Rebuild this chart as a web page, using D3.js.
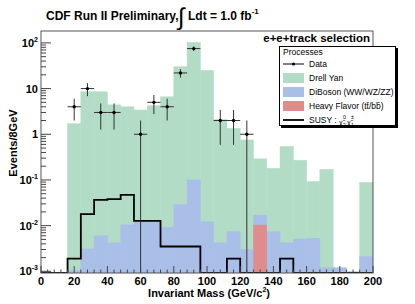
<!DOCTYPE html>
<html><head><meta charset="utf-8">
<script src="https://cdn.jsdelivr.net/npm/d3@7"></script>
<style>
body{margin:0;background:#fff}
text{font-family:"Liberation Sans",Arial,Helvetica,sans-serif}
</style>
</head><body>
<svg id="c" width="415" height="304"></svg>
<script>
// ---- data (8 GeV bins from 0 to 200) ----
const binLow = [0,8,16,24,32,40,48,56,64,72,80,88,96,104,112,120,128,136,144,152,160,168,176,184,192];
const binWidth = 8;
// stacked heights as drawn (Drell-Yan on top, DiBoson, Heavy Flavor)
const drellYan = [0,0,1.7,8.5,8.5,4.4,4.0,3.4,4.2,6.6,30,103,25,2.1,1.35,0.75,0.29,0.18,0.54,0.27,0.092,0.17,0,0,0.088];
const diBoson = [0,0,0.00105,0.0031,0.006,0.0042,0.0104,0.0122,0.0122,0.0092,0.029,0.10,0.0122,0.0042,0.0074,0.003,0.017,0.0074,0.0042,0.0051,0.0053,0.0012,0.0012,0.00098,0.0021];
const heavyFlavor = [0,0,0,0,0,0,0,0,0,0,0,0,0,0,0,0,0.0103,0,0,0,0,0,0,0,0];
const susy = [0,0,0.0019,0.0178,0.0365,0.038,0.047,0.0127,0.0127,0.0035,0.0035,0.0035,0,0,0.0019,0,0,0,0.0019,0,0,0,0,0,0];
const dataCounts = [0,0,4,10,3,3,0,1,5,4,22,75,0,2,2,1,0,0,0,0,0,0,0,0,0];
const xTicks = [0,20,40,60,80,100,120,140,160,180,200];
const yDecades = [-3,-2,-1,0,1,2];
const legendLabels = ["Data","Drell Yan","DiBoson (WW/WZ/ZZ)","Heavy Flavor (tt\u0304/bb\u0304)","SUSY :"];

// ---- layout ----
const svg = d3.select("#c");
const L=41, R=373, T=31, B=273;
const x = d3.scaleLinear().domain([0,200]).range([L,R]);
const y = d3.scaleLog().domain([9.2e-4,182]).range([B,T]);
const yMin = y.domain()[0];
const cl = v => Math.max(v, yMin);

const green="#b3dcc6", blue="#a9bfe8", red="#e08c8c";

svg.append("clipPath").attr("id","clip").append("rect").attr("x",L).attr("y",T).attr("width",R-L).attr("height",B-T);
const g = svg.append("g").attr("clip-path","url(#clip)");

function bars(vals, color){
  g.append("g").selectAll("rect").data(vals.map((v,i)=>({v,i})).filter(d=>d.v>0)).join("rect")
   .attr("x",d=>x(binLow[d.i])).attr("width",d=>x(binLow[d.i]+binWidth)-x(binLow[d.i]))
   .attr("y",d=>y(cl(d.v))).attr("height",d=>B-y(cl(d.v))).attr("fill",color)
   .attr("stroke",color).attr("stroke-width",0.5);
}
bars(drellYan, green);
bars(diBoson, blue);
bars(heavyFlavor, red);

// SUSY step line
const pts=[];
susy.forEach((v,i)=>{ pts.push([x(binLow[i]), y(cl(v))]); pts.push([x(binLow[i]+binWidth), y(cl(v))]); });
g.append("path").attr("d", d3.line()(pts)).attr("fill","none").attr("stroke","#000").attr("stroke-width",1.8);

// data points
const dg = g.append("g");
dataCounts.forEach((n,i)=>{
  if(n<=0) return;
  const cx = x(binLow[i]+binWidth/2), e=Math.sqrt(n);
  dg.append("line").attr("x1",cx).attr("x2",cx).attr("y1",y(n+e)).attr("y2",y(cl(n-e)))
    .attr("stroke","#333").attr("stroke-width",1);
  dg.append("line").attr("x1",x(binLow[i])).attr("x2",x(binLow[i]+binWidth)).attr("y1",y(n)).attr("y2",y(n))
    .attr("stroke","#333").attr("stroke-width",1);
  dg.append("circle").attr("cx",cx).attr("cy",y(n)).attr("r",1.7).attr("fill","#000");
});

// frame
svg.append("rect").attr("x",L).attr("y",T).attr("width",R-L).attr("height",B-T)
  .attr("fill","none").attr("stroke","#555").attr("stroke-width",1);

// x ticks
const xt = svg.append("g");
d3.range(0,201,4).forEach(v=>{
  const major = xTicks.includes(v);
  xt.append("line").attr("x1",x(v)).attr("x2",x(v)).attr("y1",B).attr("y2",B-(major?7:3.5)).attr("stroke","#444");
});
xt.selectAll("text").data(xTicks).join("text").attr("x",d=>x(d)).attr("y",285)
  .attr("text-anchor","middle").attr("font-size",11).attr("font-weight","bold").text(d=>d);

// y ticks
const yt = svg.append("g");
yDecades.forEach(k=>{
  for(let m=1;m<10;m++){
    const v=m*Math.pow(10,k);
    if(v<yMin||v>y.domain()[1]) continue;
    yt.append("line").attr("x1",L).attr("x2",L+(m===1?10:5)).attr("y1",y(v)).attr("y2",y(v)).attr("stroke","#444");
  }
  const t = yt.append("text").attr("x",38).attr("y",y(Math.pow(10,k))+4).attr("text-anchor","end")
    .attr("font-size",11).attr("font-weight","bold");
  if(k===0) t.text("1");
  else if(k===1) t.text("10");
  else { t.append("tspan").text("10"); t.append("tspan").attr("dy",-5).attr("font-size",7).text(String(k)); }
});

// axis titles
svg.append("text").attr("transform","translate(17,143) rotate(-90)").attr("text-anchor","middle")
  .attr("font-size",11).attr("font-weight","bold").text("Events/8GeV");
const xtT = svg.append("text").attr("x",270).attr("y",297).attr("text-anchor","end").attr("font-size",11).attr("font-weight","bold");
xtT.append("tspan").text("Invariant Mass (GeV/c");
xtT.append("tspan").attr("dy",-5).attr("font-size",7).text("2");
xtT.append("tspan").attr("dy",5).text(")");

// title
svg.append("text").attr("x",46).attr("y",20).attr("font-size",12).attr("font-weight","bold").text("CDF Run II Preliminary,");
svg.append("text").attr("x",178).attr("y",25).attr("font-size",24).attr("font-family","DejaVu Sans").text("∫");
const tt = svg.append("text").attr("x",188).attr("y",20).attr("font-size",12).attr("font-weight","bold");
tt.append("tspan").text("Ldt = 1.0 fb");
tt.append("tspan").attr("dy",-6).attr("font-size",8).text("-1");

svg.append("text").attr("x",370).attr("y",42).attr("text-anchor","end").attr("font-size",11.5).attr("font-weight","bold").text("e+e+track selection");

// legend
const lg = svg.append("g");
lg.append("rect").attr("x",281).attr("y",48).attr("width",117).attr("height",80).attr("fill","#000");
lg.append("rect").attr("x",279.5).attr("y",46.5).attr("width",116).attr("height",79).attr("fill","#fff").attr("stroke","#000").attr("stroke-width",1);
lg.append("text").attr("x",283).attr("y",55).attr("font-size",8.5).text("Processes");
const kinds = ["data","box","box","box","line"];
const swatch = [null, green, blue, red, null];
legendLabels.forEach((lab,i)=>{
  const cy = 64 + i*14;
  if(kinds[i]==="box") lg.append("rect").attr("x",283).attr("y",cy-5).attr("width",21).attr("height",10).attr("fill",swatch[i]);
  else if(kinds[i]==="data"){
    lg.append("line").attr("x1",283).attr("x2",304).attr("y1",cy).attr("y2",cy).attr("stroke","#000");
    lg.append("circle").attr("cx",293.5).attr("cy",cy).attr("r",1.6);
  } else lg.append("line").attr("x1",283).attr("x2",304).attr("y1",cy).attr("y2",cy).attr("stroke","#000").attr("stroke-width",1.8);
  lg.append("text").attr("x",309).attr("y",cy+3).attr("font-size",8.5).text(lab);
});
// SUSY particle symbols: chi~^0_2 chi~^+-_1
const sy = 64 + 4*14;
lg.append("text").attr("x",339).attr("y",sy+4.5).attr("font-size",7).text("\u03C7\u0303");
lg.append("text").attr("x",343).attr("y",sy-1.5).attr("font-size",5.5).text("0");
lg.append("text").attr("x",343).attr("y",sy+6.5).attr("font-size",5).text("2");
lg.append("text").attr("x",347).attr("y",sy+4.5).attr("font-size",7).text("\u03C7\u0303");
lg.append("text").attr("x",351).attr("y",sy-1.5).attr("font-size",5.5).text("\u00B1");
lg.append("text").attr("x",351).attr("y",sy+6.5).attr("font-size",5).text("1");
</script>
</body></html>
